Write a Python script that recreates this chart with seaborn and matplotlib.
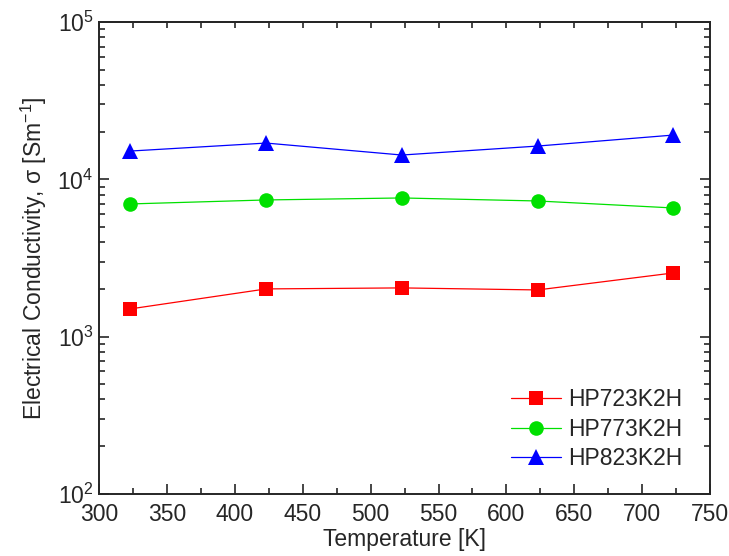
import numpy as np
import pandas as pd
import matplotlib
matplotlib.use("Agg")
import matplotlib.pyplot as plt
import seaborn as sns
from matplotlib.ticker import LogLocator, MultipleLocator, NullFormatter

# data
temperature = [323, 423, 523, 623, 723]
sigma_723 = [1500, 2010, 2040, 1980, 2540]
sigma_773 = [6980, 7400, 7620, 7290, 6580]
sigma_823 = [15150, 17030, 14290, 16300, 19150]
sample_names = ["HP723K2H", "HP773K2H", "HP823K2H"]
colors = ["#ff0000", "#00e000", "#0000ff"]
markers = ["s", "o", "^"]

df = pd.DataFrame({
    "T": temperature * 3,
    "sigma": sigma_723 + sigma_773 + sigma_823,
    "sample": np.repeat(sample_names, len(temperature)),
})

sns.set_style("ticks")
plt.rcParams["font.family"] = ["Liberation Sans", "DejaVu Sans"]
plt.rcParams["mathtext.fontset"] = "custom"
plt.rcParams["mathtext.rm"] = "Liberation Sans"
plt.rcParams["mathtext.it"] = "Liberation Sans"

FS = 16.5

fig, ax = plt.subplots(figsize=(7.29, 5.56), dpi=100)
fig.subplots_adjust(left=0.136, right=0.974, top=0.96, bottom=0.112)

msizes = [9.5, 10.5, 12]
for name, c, m, ms in zip(sample_names, colors, markers, msizes):
    sub = df[df["sample"] == name]
    sns.lineplot(data=sub, x="T", y="sigma", ax=ax, color=c, marker=m,
                 markersize=ms, markeredgewidth=0, linewidth=0.9, label=name)

ax.set_yscale("log")
ax.set_xlim(300, 750)
ax.set_ylim(1e2, 1e5)
ax.xaxis.set_major_locator(MultipleLocator(50))
ax.xaxis.set_minor_locator(MultipleLocator(25))
ax.yaxis.set_major_locator(LogLocator(base=10, numticks=10))
ax.yaxis.set_minor_locator(LogLocator(base=10, subs=np.arange(2, 10), numticks=10))
ax.yaxis.set_minor_formatter(NullFormatter())

ax.tick_params(which="both", direction="in", top=False, right=True, width=1.2, labelsize=FS)
ax.tick_params(which="major", length=7)
ax.tick_params(which="minor", length=4)
ax.tick_params(axis="x", which="both", pad=7)
ax.tick_params(axis="y", which="both", pad=4)
for s in ax.spines.values():
    s.set_linewidth(1.4)

# short ticks along the top every 25 K
sec = ax.secondary_xaxis("top")
sec.xaxis.set_major_locator(MultipleLocator(25))
sec.tick_params(which="both", direction="in", length=4, width=1.2, labeltop=False)
sec.spines["top"].set_linewidth(1.4)

ax.set_xlabel("Temperature [K]", fontsize=FS, labelpad=1)
ax.set_ylabel(r"Electrical Conductivity, σ [Sm$^{-1}$]", fontsize=FS, labelpad=6)

ax.legend(loc="lower right", frameon=False, fontsize=FS, handlelength=2.2,
          bbox_to_anchor=(0.988, 0.006), labelspacing=0.28, handletextpad=0.3)

plt.savefig("out.png", dpi=100)
